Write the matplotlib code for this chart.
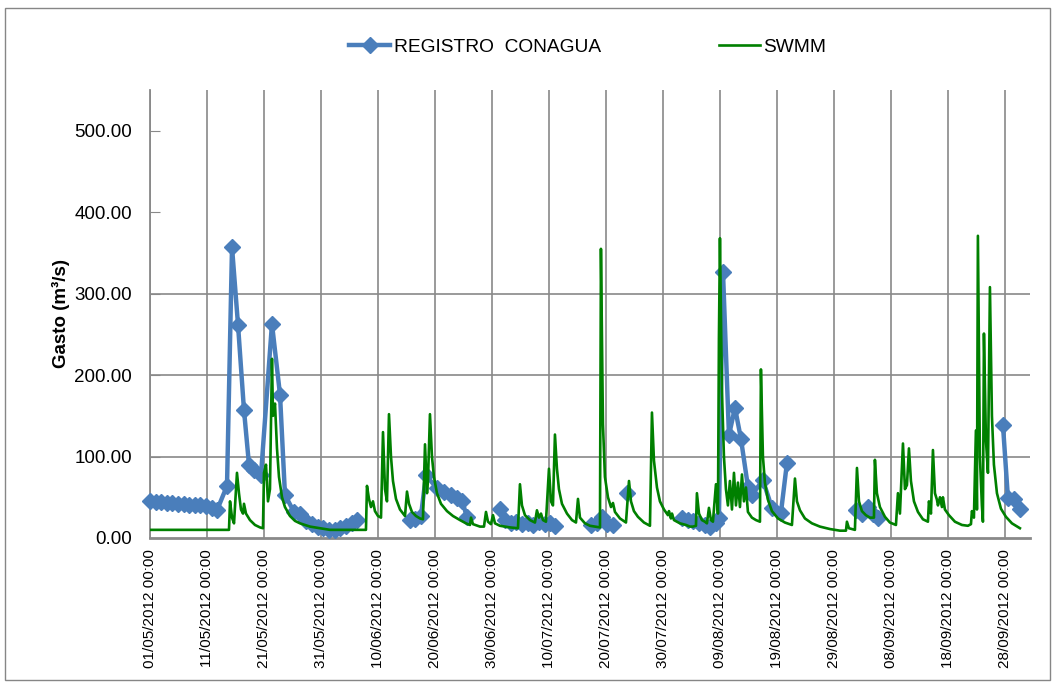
import numpy as np
import pandas as pd
import matplotlib
matplotlib.use("Agg")
from matplotlib import pyplot as plt
from matplotlib.patches import Rectangle

plt.rcParams['font.family'] = ['Liberation Sans', 'DejaVu Sans']

# days counted from 01/05/2012 00:00
start_date = pd.Timestamp('2012-05-01')

# REGISTRO CONAGUA (nan = no record, line is broken)
conagua_days = [0.00, 1.05, 1.93, 2.98, 3.86, 4.91, 5.96, 6.84, 7.89, 8.77, 9.82, 10.88, 11.75,
                13.51, 14.39, 15.44, 16.49, 17.37, 18.25, 19.47, 21.40, 22.81, 23.68, 25.26,
                26.32, 27.37, 28.42, 29.47, 30.35, 31.40, 32.46, 33.33, 34.39, 35.44, 36.32,
                np.nan,
                45.61, 46.49, 47.54, 48.42, 50.35, 51.58, 52.81, 53.86, 54.74, 55.61,
                np.nan,
                61.40, 62.28, 63.33, 64.21, 65.26, 66.32, 67.19, 68.25, 69.30, 70.18, 71.05,
                np.nan,
                77.37, 78.42, 79.30, 80.18, 81.23,
                np.nan,
                83.68,
                np.nan,
                93.33, 94.39, 95.26, 96.32, 97.37, 98.25, 99.30, 99.82, 100.53, 101.58, 102.63,
                103.68, 104.91, 105.61, 107.54, 109.12, 110.70, 111.75,
                np.nan,
                123.86, 124.91, 125.96, 126.84, 127.72,
                np.nan,
                149.65, 150.53, 151.58, 152.63]
conagua_q = [45, 44, 44, 43, 43, 42, 42, 41, 41, 40, 39, 37, 34,
             64, 357, 262, 157, 90, 84, 77, 263, 176, 53, 32,
             29, 21, 17, 14, 12, 10, 10, 12, 15, 19, 22,
             np.nan,
             22, 23, 27, 77, 61, 57, 53, 49, 46, 26,
             np.nan,
             35, 22, 19, 20, 17, 18, 16, 20, 17, 19, 15,
             np.nan,
             16, 19, 26, 17, 16,
             np.nan,
             55,
             np.nan,
             24, 22, 21, 18, 16, 14, 18, 25, 327, 126, 160,
             122, 63, 53, 71, 37, 31, 92,
             np.nan,
             34, 30, 38, 29, 25,
             np.nan,
             139, 49, 48, 35]

# SWMM simulated hydrograph
swmm_days = [0.00, 13.86, 14.04, 14.39, 14.74, 15.26, 15.61, 15.96, 16.32, 16.49, 16.84, 17.54,
             18.42, 19.30, 19.82, 20.00, 20.35, 20.70, 21.05, 21.40, 21.58, 21.93, 22.28, 22.63,
             23.16, 23.68, 24.56, 25.44, 26.32, 28.07, 29.82, 31.58, 37.89, 38.07, 38.42, 38.77,
             39.12, 39.47, 40.00, 40.53, 40.88, 41.23, 41.58, 41.93, 42.28, 42.63, 43.16, 43.86,
             44.74, 45.09, 45.44, 45.96, 46.67, 47.37, 47.89, 48.25, 48.60, 48.77, 49.12, 49.47,
             49.82, 50.35, 51.05, 52.11, 53.16, 54.39, 55.44, 56.14, 56.32, 56.67, 57.89, 58.60,
             58.95, 59.30, 59.82, 60.18, 60.53, 61.40, 63.16, 64.56, 64.91, 65.26, 65.79, 66.67,
             67.54, 67.89, 68.25, 68.60, 68.95, 69.47, 70.00, 70.35, 70.70, 71.05, 71.40, 71.75,
             72.28, 73.16, 74.04, 74.74, 75.09, 75.44, 76.32, 77.19, 78.07, 78.95, 79.12, 79.47,
             79.82, 80.35, 80.88, 81.23, 81.58, 82.46, 83.51, 84.04, 84.39, 84.91, 85.61, 86.67,
             87.72, 88.07, 88.42, 88.95, 89.47, 90.18, 90.88, 91.05, 91.40, 91.58, 91.93, 92.98,
             94.04, 94.74, 95.26, 95.79, 95.96, 96.32, 96.84, 97.37, 97.72, 98.07, 98.42, 98.77,
             99.30, 99.65, 99.82, 100.00, 100.35, 100.70, 101.05, 101.40, 101.75, 102.11, 102.46,
             102.81, 103.16, 103.51, 103.86, 104.21, 104.56, 104.91, 105.61, 106.32, 107.02,
             107.19, 107.54, 107.89, 108.42, 109.12, 110.18, 111.40, 112.63, 113.16, 113.51,
             114.04, 114.91, 116.14, 117.54, 119.30, 121.05, 122.11, 122.28, 122.63, 123.68,
             124.04, 124.39, 124.91, 125.61, 126.32, 127.02, 127.19, 127.54, 128.07, 128.95,
             129.82, 130.88, 131.23, 131.58, 132.11, 132.46, 132.81, 133.16, 133.51, 134.04,
             134.74, 135.61, 136.49, 136.67, 137.02, 137.37, 137.72, 138.07, 138.25, 138.60,
             138.95, 139.12, 139.47, 140.18, 141.23, 142.46, 143.51, 144.04, 144.21, 144.56,
             144.91, 145.09, 145.26, 145.61, 145.96, 146.14, 146.32, 146.67, 147.02, 147.37,
             147.72, 148.07, 148.60, 149.30, 150.18, 151.23, 152.63]
swmm_q = [10, 10, 45, 25, 18, 80, 55, 35, 30, 42, 30, 22,
          16, 13, 12, 80, 90, 45, 60, 220, 150, 165, 110, 75,
          50, 38, 27, 21, 18, 14, 12, 10, 10, 64, 48, 38,
          45, 33, 27, 25, 130, 60, 45, 152, 100, 70, 48, 35,
          27, 57, 42, 32, 27, 24, 23, 115, 55, 70, 152, 100,
          75, 55, 42, 33, 27, 22, 18, 16, 25, 17, 14, 14,
          32, 20, 17, 28, 18, 15, 13, 12, 66, 40, 28, 22,
          19, 34, 25, 30, 22, 20, 85, 45, 40, 127, 85, 60,
          42, 30, 22, 19, 48, 25, 18, 15, 14, 13, 355, 140,
          75, 50, 38, 43, 32, 24, 19, 70, 45, 33, 26, 19,
          15, 154, 95, 62, 45, 35, 28, 33, 24, 30, 22, 18,
          16, 14, 14, 15, 55, 30, 22, 20, 18, 37, 22, 20,
          66, 30, 245, 368, 180, 100, 60, 40, 70, 35, 80,
          40, 68, 38, 78, 45, 62, 32, 25, 22, 20,
          207, 100, 68, 47, 33, 24, 19, 16, 73, 45,
          34, 24, 18, 14, 11, 9, 9, 20, 12, 10,
          86, 45, 33, 28, 25, 25, 96, 55, 38, 26,
          19, 16, 55, 30, 116, 60, 65, 110, 70, 45,
          32, 23, 20, 45, 30, 108, 55, 47, 40, 50,
          38, 50, 35, 28, 20, 16, 15, 17, 33, 25,
          132, 35, 371, 100, 40, 20, 251, 120, 80, 308,
          150, 90, 55, 36, 26, 18, 12]

y_ticks = [0, 100, 200, 300, 400, 500]
x_ticks = list(range(0, 151, 10))

fig = plt.figure(figsize=(10.55, 6.85), dpi=100)
ax = fig.add_axes([150 / 1055, 1 - 538 / 685, 880 / 1055, 448 / 685])

grid_col = '#898989'
ax.plot(conagua_days, conagua_q, color='#4a7ebb', linewidth=3.2, marker='D',
        markersize=8.5, label='REGISTRO  CONAGUA', zorder=3, clip_on=False)
ax.plot(swmm_days, swmm_q, color='#008000', linewidth=1.9, label='SWMM', zorder=4)

ax.set_xlim(0, 154.4)
ax.set_ylim(0, 550)
ax.set_yticks(y_ticks)
ax.set_yticklabels([f"{v:.2f}" for v in y_ticks], fontsize=13.5)
ax.set_xticks(x_ticks)
ax.set_xticklabels([(start_date + pd.Timedelta(days=d)).strftime('%d/%m/%Y %H:%M') for d in x_ticks],
                   rotation=90, fontsize=11)
ax.tick_params(axis='y', direction='in', length=7, color=grid_col, pad=13)
ax.tick_params(axis='x', length=0, pad=8)

ax.grid(axis='x', color=grid_col, linewidth=1.2)
for v in [100, 200, 300]:
    ax.axhline(v, color=grid_col, linewidth=1.2, zorder=1)
ax.set_axisbelow(True)

for s in ['top', 'right']:
    ax.spines[s].set_visible(False)
ax.spines['left'].set_color(grid_col)
ax.spines['left'].set_linewidth(1.3)
ax.spines['bottom'].set_color(grid_col)
ax.spines['bottom'].set_linewidth(2)

fig.text(61 / 1055, 1 - 313 / 685, 'Gasto (m³/s)', rotation=90, ha='center', va='center',
         fontsize=13.5, fontweight='bold')

fig.legend(loc='center', bbox_to_anchor=(588 / 1055, 1 - 47 / 685), ncol=2, frameon=False,
           fontsize=13.8, handlelength=2.1, handletextpad=0.2, columnspacing=6.2)

fig.patches.append(Rectangle((5 / 1055, 5 / 685), 1045 / 1055, 672 / 685, transform=fig.transFigure,
                             fill=False, edgecolor='#868686', linewidth=1))

plt.savefig('out.png', dpi=100)
